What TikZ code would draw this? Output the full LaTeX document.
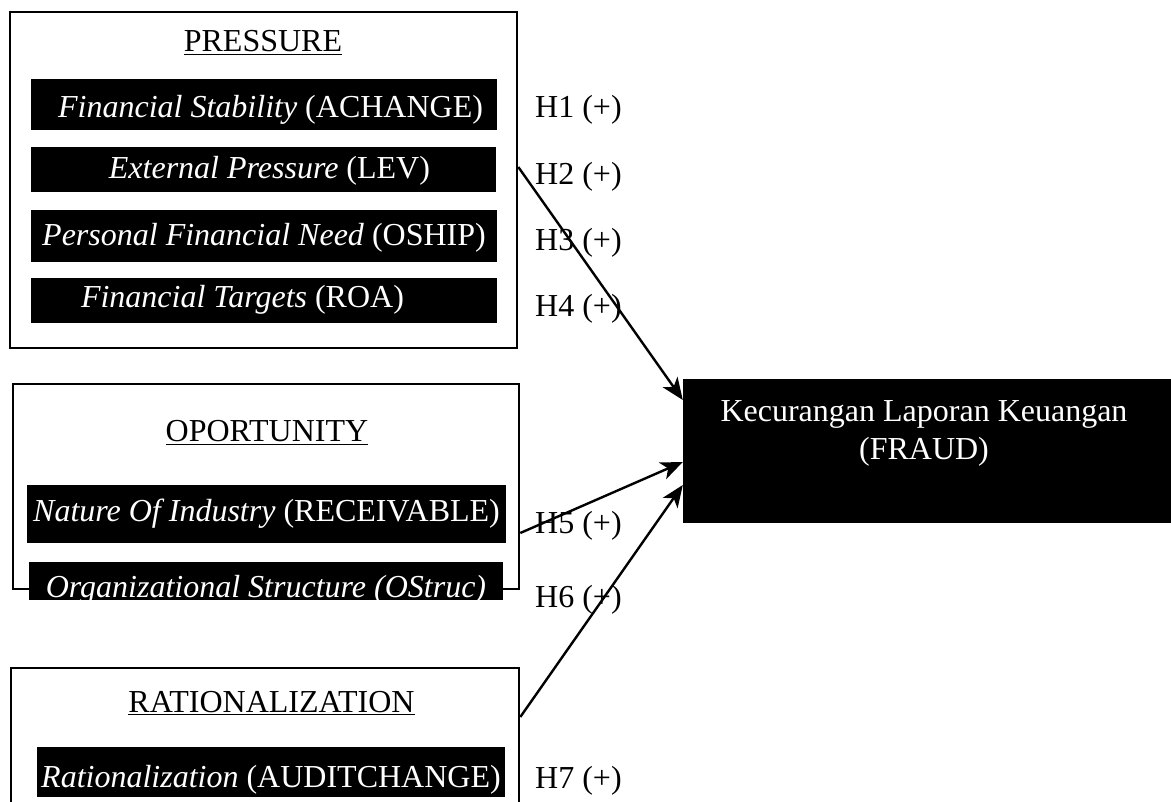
\documentclass[tikz,border=0pt]{standalone}
\usepackage{fontspec}
\setmainfont{Liberation Serif}
\usetikzlibrary{positioning,arrows.meta}

\tikzset{
  groupbox/.style={draw,line width=2.6pt,inner sep=0pt},
  varbar/.style={fill=black,text=white,inner sep=0pt,anchor=base},
  grouptitle/.style={anchor=base,inner sep=0pt},
  hyplabel/.style={anchor=base west,inner sep=0pt},
  link/.style={line width=2.4pt,-{Stealth[length=22pt,width=18pt,inset=6pt]}}
}

\begin{document}
\begin{tikzpicture}[x=1pt,y=-1pt,font=\fontsize{32}{38.5}\selectfont]
   \useasboundingbox (0,0) rectangle (1171,802);

   \node[groupbox,minimum width=507pt,minimum height=336pt] at (263.5,180) (pressure) {};
   \node[grouptitle] at (263,52) (prestitle) {\underline{PRESSURE}};
   \node[varbar,minimum width=466pt,text height=39pt,text depth=12pt,text width=438pt,align=flush right] at (264,118) (achange) {\textit{Financial Stability} (ACHANGE)};
   \node[varbar,minimum width=465pt,text height=32pt,text depth=13pt,text width=333pt,align=flush right] at (263.5,179) (lev) {\textit{External Pressure} (LEV)};
   \node[varbar,minimum width=466pt,text height=36pt,text depth=16pt] at (264,246) (oship) {\textit{Personal Financial Need} (OSHIP)};
   \node[varbar,minimum width=466pt,text height=30pt,text depth=15pt,text width=365pt,align=flush left] at (263.5,308) (roa) {\textit{Financial Targets} (ROA)};

   \node[groupbox,minimum width=506pt,minimum height=205pt] at (266,486.5) (opportunity) {};
   \node[grouptitle] at (267,442) (opptitle) {\underline{OPORTUNITY}};
   \node[varbar,minimum width=479pt,text height=36pt,text depth=22pt] at (266.5,521) (receivable) {\textit{Nature Of Industry} (RECEIVABLE)};
   \begin{scope}
      \clip (0,540) rectangle (1171,600);
      \node[varbar,minimum width=474pt,text height=35pt,text depth=3pt] at (266,597) (ostruc) {\textit{Organizational Structure (OStruc)}};
   \end{scope}

   \node[groupbox,minimum width=508pt,minimum height=162pt] at (265,749) (rational) {};
   \node[grouptitle] at (271.5,712) (rattitle) {\underline{RATIONALIZATION}};
   \node[varbar,minimum width=468pt,text height=40pt,text depth=10pt] at (271,787) (auditchange) {\textit{Rationalization} (AUDITCHANGE)};

   \node[fill=black,inner sep=0pt,minimum width=492pt,minimum height=144pt] at (929,451) (fraud) {};
   \node[text=white,align=center,anchor=base,inner sep=0pt] at (924,460) (fraudtext) {Kecurangan Laporan Keuangan\\(FRAUD)};

   \node[hyplabel] at (535,118) (h1) {H1 (+)};
   \node[hyplabel] at (535,185) (h2) {H2 (+)};
   \node[hyplabel] at (535,251) (h3) {H3 (+)};
   \node[hyplabel] at (535,317) (h4) {H4 (+)};
   \node[hyplabel] at (535,533) (h5) {H5 (+)};
   \node[hyplabel] at (535,607) (h6) {H6 (+)};
   \node[hyplabel] at (535,788) (h7) {H7 (+)};

   \draw[link] ([yshift=13pt]pressure.east) -- ([yshift=51pt]fraud.west);
   \draw[link] ([yshift=-46.5pt]opportunity.east) -- ([yshift=-11pt]fraud.west);
   \draw[link] ([yshift=32pt]rational.east) -- ([yshift=-34pt]fraud.west);
\end{tikzpicture}
\end{document}
